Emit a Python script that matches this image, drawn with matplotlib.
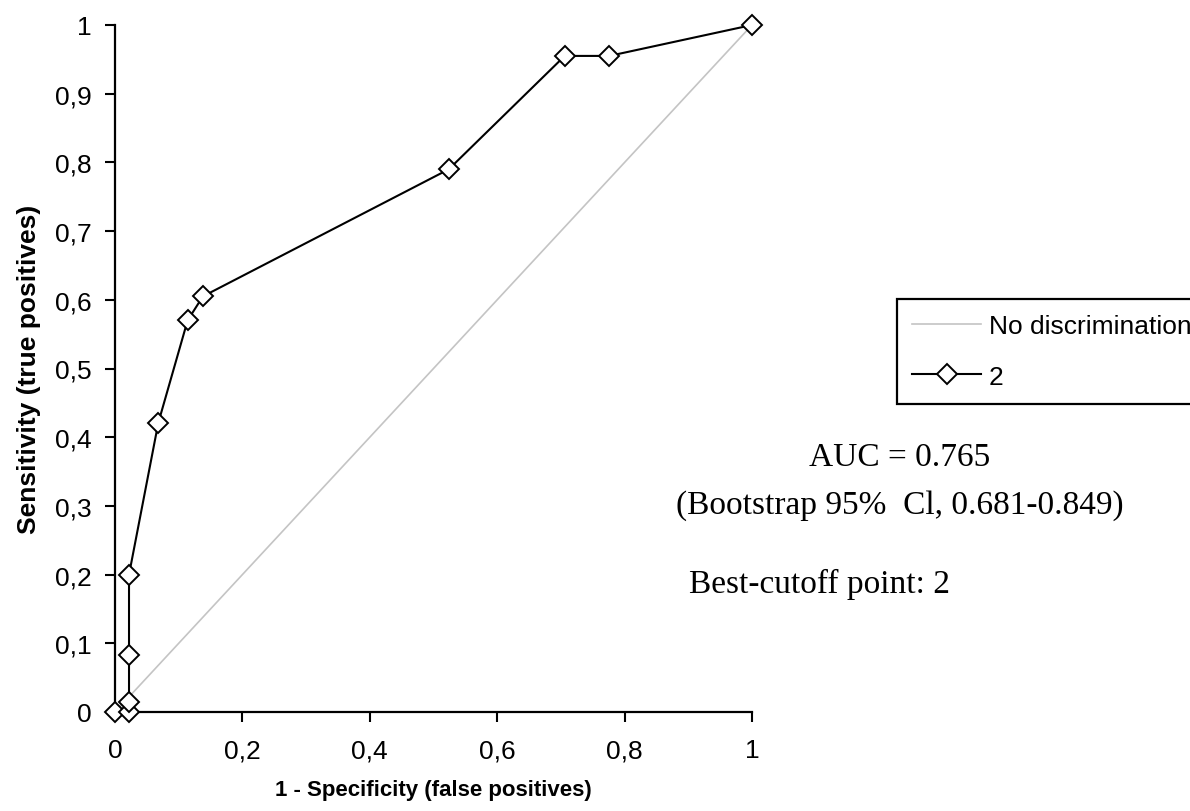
import matplotlib
matplotlib.use('Agg')
import matplotlib.pyplot as plt
from matplotlib.ticker import FuncFormatter

# ROC points
fpr = [0.0, 0.022, 0.022, 0.022, 0.022, 0.068, 0.114, 0.138, 0.524, 0.706, 0.776, 1.0]
tpr = [0.0, 0.0, 0.014, 0.083, 0.2, 0.421, 0.570, 0.605, 0.790, 0.955, 0.955, 1.0]
diag = [0.0, 1.0]

x_ticks = [0, 0.2, 0.4, 0.6, 0.8, 1]
y_ticks = [0, 0.1, 0.2, 0.3, 0.4, 0.5, 0.6, 0.7, 0.8, 0.9, 1]

auc_text = 'AUC = 0.765'
ci_text = '(Bootstrap 95%  Cl, 0.681-0.849)'
cutoff_text = 'Best-cutoff point: 2'

plt.rcParams['font.family'] = ['Liberation Sans', 'DejaVu Sans']

fig = plt.figure(figsize=(11.9, 8.12), dpi=100)
ax = fig.add_axes([115 / 1190, 1 - 713 / 812, 637 / 1190, 687 / 812])

ax.plot(diag, diag, color='#c4c4c4', lw=1.2, label='No discrimination')
ax.plot(fpr, tpr, color='black', lw=1.5, marker='D', markersize=10,
        markerfacecolor='white', markeredgecolor='black', markeredgewidth=1.4,
        label='2', clip_on=False, zorder=3)

ax.set_xlim(0, 1)
ax.set_ylim(0, 1)
ax.set_xticks(x_ticks)
ax.set_yticks(y_ticks)
fmt = FuncFormatter(lambda v, p: ('%g' % round(v, 2)).replace('.', ','))
ax.xaxis.set_major_formatter(fmt)
ax.yaxis.set_major_formatter(fmt)
ax.tick_params(axis='both', direction='out', length=7, width=1.5,
               labelsize=19, pad=10, color='black')
ax.tick_params(axis='x', pad=12)

for side in ['top', 'right']:
    ax.spines[side].set_visible(False)
for side in ['left', 'bottom']:
    ax.spines[side].set_linewidth(1.6)

ax.set_xlabel('1 - Specificity (false positives)', fontsize=16, fontweight='bold', labelpad=12)
ax.set_ylabel('Sensitivity (true positives)', fontsize=19, fontweight='bold', labelpad=10)

leg = fig.legend(loc='upper left', bbox_to_anchor=(897 / 1190, 1 - 300 / 812),
                 fontsize=19, handlelength=2.6, fancybox=False, framealpha=1,
                 edgecolor='black', borderpad=0.58, labelspacing=1.0,
                 handletextpad=0.3, borderaxespad=0)
leg.get_frame().set_linewidth(1.6)

fig.text(900 / 1190, 1 - 458 / 812, auc_text, ha='center', va='center',
         fontsize=24, family='Liberation Serif')
fig.text(900 / 1190, 1 - 506 / 812, ci_text, ha='center', va='center',
         fontsize=24, family='Liberation Serif')
fig.text(689 / 1190, 1 - 584 / 812, cutoff_text, ha='left', va='center',
         fontsize=24, family='Liberation Serif')

plt.savefig('out.png', dpi=100)
